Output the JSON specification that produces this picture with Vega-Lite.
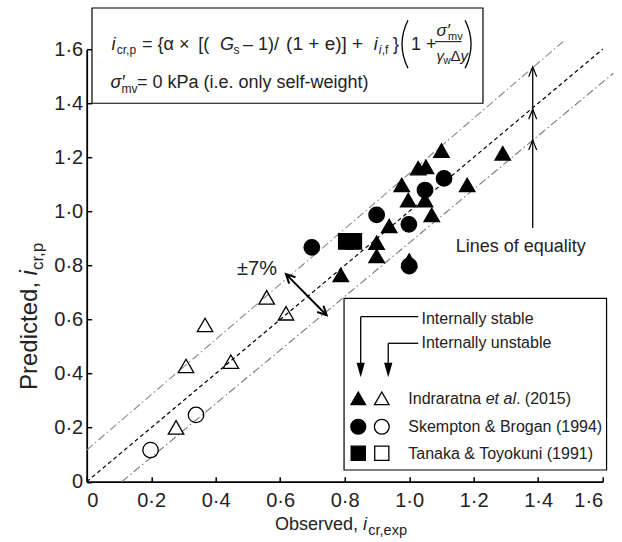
{
"$schema":"https://vega.github.io/schema/vega-lite/v6.json",
"width":516,"height":432.5,
"autosize":"none",
"padding":{"left":86.7,"top":49.2,"right":19.3,"bottom":60.3},
"config":{"view":{"stroke":null},
 "axis":{"domainColor":"black","domainWidth":1.8,"tickColor":"black","tickWidth":1.5,"tickSize":-5,"labelFont":"Liberation Sans","labelFontSize":20,"labelColor":"#222","grid":false},
 "text":{"font":"Liberation Sans","color":"#222"}},
"layer":[
{"data":{"values":[{"x":0,"y":0},{"x":1.6,"y":1.6}]},"mark":{"type":"line","color":"black","strokeWidth":1.2,"strokeDash":[4,3],"clip":false},"encoding":{"x":{"field":"x","type":"quantitative"},"y":{"field":"y","type":"quantitative"}}},
{"data":{"values":[{"x":0,"y":0.117},{"x":1.483,"y":1.634}]},"mark":{"type":"line","color":"#888","strokeWidth":1.1,"strokeDash":[8,3,1.5,3],"clip":false},"encoding":{"x":{"field":"x","type":"quantitative"},"y":{"field":"y","type":"quantitative"}}},
{"data":{"values":[{"x":0.109,"y":0},{"x":1.633,"y":1.511}]},"mark":{"type":"line","color":"#777","strokeWidth":1.1,"strokeDash":[8,3,1.5,3],"clip":false},"encoding":{"x":{"field":"x","type":"quantitative"},"y":{"field":"y","type":"quantitative"}}},
{"data":{"values":[{}]},"mark":{"type":"rule","color":"black","strokeWidth":2},"encoding":{"x":{"datum":0.618},"y":{"datum":0.768},"x2":{"datum":0.744},"y2":{"datum":0.616}}},
{"data":{"values":[{}]},"mark":{"type":"point","shape":"M -1 2 L 0 0 L 1 2","size":80,"filled":false,"color":"black","strokeWidth":2,"angle":315,"opacity":1},"encoding":{"x":{"datum":0.618},"y":{"datum":0.768}}},
{"data":{"values":[{}]},"mark":{"type":"point","shape":"M -1 2 L 0 0 L 1 2","size":80,"filled":false,"color":"black","strokeWidth":2,"angle":135,"opacity":1},"encoding":{"x":{"datum":0.744},"y":{"datum":0.616}}},
{"data":{"values":[{}]},"mark":{"type":"rule","color":"black","strokeWidth":1.3},"encoding":{"x":{"datum":1.383},"y":{"datum":0.9386},"y2":{"datum":1.535}}},
{"data":{"values":[{}]},"mark":{"type":"point","shape":"M -1 2.5 L 0 0 L 1 2.5","size":64,"filled":false,"color":"black","strokeWidth":1.2,"opacity":1},"encoding":{"x":{"datum":1.383},"y":{"datum":1.535}}},
{"data":{"values":[{}]},"mark":{"type":"point","shape":"M -1 2.5 L 0 0 L 1 2.5","size":64,"filled":false,"color":"black","strokeWidth":1.2,"opacity":1},"encoding":{"x":{"datum":1.383},"y":{"datum":1.378}}},
{"data":{"values":[{}]},"mark":{"type":"point","shape":"M -1 2.5 L 0 0 L 1 2.5","size":64,"filled":false,"color":"black","strokeWidth":1.2,"opacity":1},"encoding":{"x":{"datum":1.383},"y":{"datum":1.264}}},
{"data":{"values":[
{"source":"Indraratna","stability":"stable","observed":1.10,"predicted":1.225},
{"source":"Indraratna","stability":"stable","observed":1.29,"predicted":1.215},
{"source":"Indraratna","stability":"stable","observed":1.028,"predicted":1.16},
{"source":"Indraratna","stability":"stable","observed":1.052,"predicted":1.165},
{"source":"Indraratna","stability":"stable","observed":0.977,"predicted":1.098},
{"source":"Indraratna","stability":"stable","observed":1.18,"predicted":1.098},
{"source":"Indraratna","stability":"stable","observed":0.997,"predicted":1.042},
{"source":"Indraratna","stability":"stable","observed":1.049,"predicted":1.042},
{"source":"Indraratna","stability":"stable","observed":1.07,"predicted":0.987},
{"source":"Indraratna","stability":"stable","observed":0.938,"predicted":0.946},
{"source":"Indraratna","stability":"stable","observed":0.899,"predicted":0.884},
{"source":"Indraratna","stability":"stable","observed":0.899,"predicted":0.835},
{"source":"Indraratna","stability":"stable","observed":0.788,"predicted":0.765},
{"source":"Indraratna","stability":"stable","observed":1.0,"predicted":0.818},
{"source":"Skempton","stability":"stable","observed":1.108,"predicted":1.122},
{"source":"Skempton","stability":"stable","observed":1.049,"predicted":1.079},
{"source":"Skempton","stability":"stable","observed":0.899,"predicted":0.987},
{"source":"Skempton","stability":"stable","observed":0.999,"predicted":0.952},
{"source":"Skempton","stability":"stable","observed":0.698,"predicted":0.867},
{"source":"Skempton","stability":"stable","observed":1.0,"predicted":0.798},
{"source":"Tanaka","stability":"stable","observed":0.805,"predicted":0.889},
{"source":"Tanaka","stability":"stable","observed":0.828,"predicted":0.889},
{"source":"Indraratna","stability":"unstable","observed":0.558,"predicted":0.682},
{"source":"Indraratna","stability":"unstable","observed":0.618,"predicted":0.623},
{"source":"Indraratna","stability":"unstable","observed":0.367,"predicted":0.58},
{"source":"Indraratna","stability":"unstable","observed":0.308,"predicted":0.428},
{"source":"Indraratna","stability":"unstable","observed":0.447,"predicted":0.444},
{"source":"Indraratna","stability":"unstable","observed":0.277,"predicted":0.201},
{"source":"Skempton","stability":"unstable","observed":0.198,"predicted":0.117},
{"source":"Skempton","stability":"unstable","observed":0.339,"predicted":0.247}
]},
"mark":{"type":"point","filled":true,"size":240,"stroke":"black","strokeWidth":1.3,"opacity":1},
"encoding":{
"x":{"field":"observed","type":"quantitative","scale":{"domain":[0,1.6],"nice":false,"zero":false},"axis":{"title":null,"values":[0,0.2,0.4,0.6,0.8,1.0,1.2,1.4,1.6],"labelPadding":14,"labelExpr":"datum.value == 0 ? '0' : replace(format(datum.value, '.1f'), '.', '·')"}},
"y":{"field":"predicted","type":"quantitative","scale":{"domain":[0,1.6],"nice":false,"zero":false},"axis":{"title":null,"values":[0,0.2,0.4,0.6,0.8,1.0,1.2,1.4,1.6],"labelPadding":9,"labelExpr":"datum.value == 0 ? '0' : replace(format(datum.value, '.1f'), '.', '·')"}},
"shape":{"field":"source","type":"nominal","scale":{"domain":["Indraratna","Skempton","Tanaka"],"range":["triangle-up","circle","square"]},"legend":null},
"fill":{"field":"stability","type":"nominal","scale":{"domain":["stable","unstable"],"range":["black","transparent"]},"legend":null}
}},
{"data":{"values":[{}]},"mark":{"type":"rect","fill":"white","stroke":"black","strokeWidth":1.2},"encoding":{"x":{"datum":0.0164},"x2":{"datum":1.2288},"y":{"datum":1.400},"y2":{"datum":1.7525}}},
{"data":{"values":[{}]},"mark":{"type":"text","text":"i","align":"left","baseline":"alphabetic","fontSize":18,"fontStyle":"italic"},"encoding":{"x":{"datum":0.0769},"y":{"datum":1.5971}}},
{"data":{"values":[{}]},"mark":{"type":"text","text":"cr,p","align":"left","baseline":"alphabetic","fontSize":12},"encoding":{"x":{"datum":0.0933},"y":{"datum":1.5805}}},
{"data":{"values":[{}]},"mark":{"type":"text","text":"= {α ×","align":"left","baseline":"alphabetic","fontSize":18},"encoding":{"x":{"datum":0.1715},"y":{"datum":1.5971}}},
{"data":{"values":[{}]},"mark":{"type":"text","text":"[(","align":"left","baseline":"alphabetic","fontSize":18},"encoding":{"x":{"datum":0.3457},"y":{"datum":1.5971}}},
{"data":{"values":[{}]},"mark":{"type":"text","text":"G","align":"left","baseline":"alphabetic","fontSize":18,"fontStyle":"italic"},"encoding":{"x":{"datum":0.4134},"y":{"datum":1.5971}}},
{"data":{"values":[{}]},"mark":{"type":"text","text":"s","align":"left","baseline":"alphabetic","fontSize":12},"encoding":{"x":{"datum":0.4552},"y":{"datum":1.5805}}},
{"data":{"values":[{}]},"mark":{"type":"text","text":"– 1)/","align":"left","baseline":"alphabetic","fontSize":18},"encoding":{"x":{"datum":0.4847},"y":{"datum":1.5971}}},
{"data":{"values":[{}]},"mark":{"type":"text","text":"(1 + e)] +","align":"left","baseline":"alphabetic","fontSize":19},"encoding":{"x":{"datum":0.6183},"y":{"datum":1.5971}}},
{"data":{"values":[{}]},"mark":{"type":"text","text":"i","align":"left","baseline":"alphabetic","fontSize":18,"fontStyle":"italic"},"encoding":{"x":{"datum":0.8902},"y":{"datum":1.5971}}},
{"data":{"values":[{}]},"mark":{"type":"text","text":"i","align":"left","baseline":"alphabetic","fontSize":12,"fontStyle":"italic"},"encoding":{"x":{"datum":0.9057},"y":{"datum":1.5805}}},
{"data":{"values":[{}]},"mark":{"type":"text","text":",f","align":"left","baseline":"alphabetic","fontSize":12},"encoding":{"x":{"datum":0.915},"y":{"datum":1.5805}}},
{"data":{"values":[{}]},"mark":{"type":"text","text":"}","align":"left","baseline":"alphabetic","fontSize":18},"encoding":{"x":{"datum":0.9498},"y":{"datum":1.5971}}},
{"data":{"values":[{}]},"mark":{"type":"point","shape":"M 0.15 -1 Q -0.35 0 0.15 1","size":2304,"filled":false,"color":"black","strokeWidth":1.3,"opacity":1},"encoding":{"x":{"datum":0.9851},"y":{"datum":1.6186}}},
{"data":{"values":[{}]},"mark":{"type":"text","text":"1 +","align":"left","baseline":"alphabetic","fontSize":18},"encoding":{"x":{"datum":1.0056},"y":{"datum":1.5971}}},
{"data":{"values":[{}]},"mark":{"type":"rule","color":"black","strokeWidth":1},"encoding":{"x":{"datum":1.08},"x2":{"datum":1.1628},"y":{"datum":1.6278}}},
{"data":{"values":[{}]},"mark":{"type":"text","text":"σ′","align":"left","baseline":"alphabetic","fontSize":17,"fontStyle":"italic"},"encoding":{"x":{"datum":1.0847},"y":{"datum":1.6471}}},
{"data":{"values":[{}]},"mark":{"type":"text","text":"mv","align":"left","baseline":"alphabetic","fontSize":11},"encoding":{"x":{"datum":1.1203},"y":{"datum":1.6323}}},
{"data":{"values":[{}]},"mark":{"type":"text","text":"γ","align":"left","baseline":"alphabetic","fontSize":15,"fontStyle":"italic"},"encoding":{"x":{"datum":1.0847},"y":{"datum":1.5564}}},
{"data":{"values":[{}]},"mark":{"type":"text","text":"w","align":"left","baseline":"alphabetic","fontSize":10},"encoding":{"x":{"datum":1.1063},"y":{"datum":1.5453}}},
{"data":{"values":[{}]},"mark":{"type":"text","text":"Δ","align":"left","baseline":"alphabetic","fontSize":15},"encoding":{"x":{"datum":1.1281},"y":{"datum":1.5564}}},
{"data":{"values":[{}]},"mark":{"type":"text","text":"y","align":"left","baseline":"alphabetic","fontSize":15,"fontStyle":"italic"},"encoding":{"x":{"datum":1.1591},"y":{"datum":1.5564}}},
{"data":{"values":[{}]},"mark":{"type":"point","shape":"M -0.15 -1 Q 0.35 0 -0.15 1","size":2304,"filled":false,"color":"black","strokeWidth":1.3,"opacity":1},"encoding":{"x":{"datum":1.1845},"y":{"datum":1.6186}}},
{"data":{"values":[{}]},"mark":{"type":"text","text":"σ′","align":"left","baseline":"alphabetic","fontSize":18,"fontStyle":"italic"},"encoding":{"x":{"datum":0.0738},"y":{"datum":1.4554}}},
{"data":{"values":[{}]},"mark":{"type":"text","text":"mv","align":"left","baseline":"alphabetic","fontSize":12},"encoding":{"x":{"datum":0.1079},"y":{"datum":1.438}}},
{"data":{"values":[{}]},"mark":{"type":"text","text":"= 0 kPa (i.e. only self-weight)","align":"left","baseline":"alphabetic","fontSize":18},"encoding":{"x":{"datum":0.156},"y":{"datum":1.4554}}},
{"data":{"values":[{}]},"mark":{"type":"rect","fill":"white","stroke":"black","strokeWidth":1.2},"encoding":{"x":{"datum":0.798},"x2":{"datum":1.612},"y":{"datum":0.0433},"y2":{"datum":0.6785}}},
{"data":{"values":[{}]},"mark":{"type":"rule","color":"black","strokeWidth":1.3},"encoding":{"x":{"datum":0.8496},"x2":{"datum":1.028},"y":{"datum":0.6104}}},
{"data":{"values":[{}]},"mark":{"type":"rule","color":"black","strokeWidth":1.3},"encoding":{"x":{"datum":0.8496},"y":{"datum":0.6104},"y2":{"datum":0.40}}},
{"data":{"values":[{}]},"mark":{"type":"point","shape":"M -1 -3.5 L 1 -3.5 L 0 0 Z","size":69,"filled":true,"color":"black","opacity":1},"encoding":{"x":{"datum":0.8496},"y":{"datum":0.386}}},
{"data":{"values":[{}]},"mark":{"type":"rule","color":"black","strokeWidth":1.3},"encoding":{"x":{"datum":0.935},"x2":{"datum":1.028},"y":{"datum":0.512}}},
{"data":{"values":[{}]},"mark":{"type":"rule","color":"black","strokeWidth":1.3},"encoding":{"x":{"datum":0.935},"y":{"datum":0.512},"y2":{"datum":0.40}}},
{"data":{"values":[{}]},"mark":{"type":"point","shape":"M -1 -3.5 L 1 -3.5 L 0 0 Z","size":69,"filled":true,"color":"black","opacity":1},"encoding":{"x":{"datum":0.935},"y":{"datum":0.386}}},
{"data":{"values":[{}]},"mark":{"type":"text","text":"Internally stable","align":"left","baseline":"alphabetic","fontSize":16},"encoding":{"x":{"datum":1.0381},"y":{"datum":0.5834}}},
{"data":{"values":[{}]},"mark":{"type":"text","text":"Internally unstable","align":"left","baseline":"alphabetic","fontSize":16},"encoding":{"x":{"datum":1.0381},"y":{"datum":0.4932}}},
{"data":{"values":[{}]},"mark":{"type":"point","shape":"triangle-up","size":210,"filled":true,"fill":"black","stroke":"black","strokeWidth":1.3,"opacity":1},"encoding":{"x":{"datum":0.842},"y":{"datum":0.3085}}},
{"data":{"values":[{}]},"mark":{"type":"point","shape":"triangle-up","size":210,"filled":false,"stroke":"black","strokeWidth":1.3,"opacity":1},"encoding":{"x":{"datum":0.915},"y":{"datum":0.3085}}},
{"data":{"values":[{}]},"mark":{"type":"point","shape":"circle","size":220,"filled":true,"fill":"black","stroke":"black","strokeWidth":1.3,"opacity":1},"encoding":{"x":{"datum":0.842},"y":{"datum":0.2035}}},
{"data":{"values":[{}]},"mark":{"type":"point","shape":"circle","size":220,"filled":false,"stroke":"black","strokeWidth":1.3,"opacity":1},"encoding":{"x":{"datum":0.915},"y":{"datum":0.2035}}},
{"data":{"values":[{}]},"mark":{"type":"point","shape":"square","size":200,"filled":true,"fill":"black","stroke":"black","strokeWidth":1.3,"opacity":1},"encoding":{"x":{"datum":0.842},"y":{"datum":0.1051}}},
{"data":{"values":[{}]},"mark":{"type":"point","shape":"square","size":200,"filled":false,"stroke":"black","strokeWidth":1.3,"opacity":1},"encoding":{"x":{"datum":0.915},"y":{"datum":0.1051}}},
{"data":{"values":[{}]},"mark":{"type":"text","text":"Indraratna","align":"left","baseline":"alphabetic","fontSize":16},"encoding":{"x":{"datum":0.9972},"y":{"datum":0.2875}}},
{"data":{"values":[{}]},"mark":{"type":"text","text":"et al","align":"left","baseline":"alphabetic","fontSize":16,"fontStyle":"italic"},"encoding":{"x":{"datum":1.2372},"y":{"datum":0.2875}}},
{"data":{"values":[{}]},"mark":{"type":"text","text":". (2015)","align":"left","baseline":"alphabetic","fontSize":16},"encoding":{"x":{"datum":1.3309},"y":{"datum":0.2875}}},
{"data":{"values":[{}]},"mark":{"type":"text","text":"Skempton & Brogan (1994)","align":"left","baseline":"alphabetic","fontSize":16},"encoding":{"x":{"datum":0.9972},"y":{"datum":0.1824}}},
{"data":{"values":[{}]},"mark":{"type":"text","text":"Tanaka & Toyokuni (1991)","align":"left","baseline":"alphabetic","fontSize":16},"encoding":{"x":{"datum":0.9972},"y":{"datum":0.084}}},
{"data":{"values":[{}]},"mark":{"type":"text","text":"Lines of equality","align":"center","baseline":"alphabetic","fontSize":18},"encoding":{"x":{"datum":1.346},"y":{"datum":0.851}}},
{"data":{"values":[{}]},"mark":{"type":"text","text":"±7%","align":"center","baseline":"alphabetic","fontSize":20},"encoding":{"x":{"datum":0.528},"y":{"datum":0.7647}}},
{"data":{"values":[{}]},"mark":{"type":"text","text":"Observed,","align":"right","baseline":"alphabetic","fontSize":18},"encoding":{"x":{"datum":0.8413},"y":{"datum":-0.1787}}},
{"data":{"values":[{}]},"mark":{"type":"text","text":"i","align":"left","baseline":"alphabetic","fontSize":18,"fontStyle":"italic"},"encoding":{"x":{"datum":0.8567},"y":{"datum":-0.1787}}},
{"data":{"values":[{}]},"mark":{"type":"text","text":"cr,exp","align":"left","baseline":"alphabetic","fontSize":14.5},"encoding":{"x":{"datum":0.8732},"y":{"datum":-0.1972}}},
{"data":{"values":[{}]},"mark":{"type":"text","text":"Predicted,","align":"left","baseline":"alphabetic","fontSize":24,"angle":270},"encoding":{"x":{"datum":-0.1541},"y":{"datum":0.3393}}},
{"data":{"values":[{}]},"mark":{"type":"text","text":"i","align":"left","baseline":"alphabetic","fontSize":24,"fontStyle":"italic","angle":270},"encoding":{"x":{"datum":-0.1541},"y":{"datum":0.7632}}},
{"data":{"values":[{}]},"mark":{"type":"text","text":"cr,p","align":"left","baseline":"alphabetic","fontSize":17,"angle":270},"encoding":{"x":{"datum":-0.1355},"y":{"datum":0.7828}}}
]
}
